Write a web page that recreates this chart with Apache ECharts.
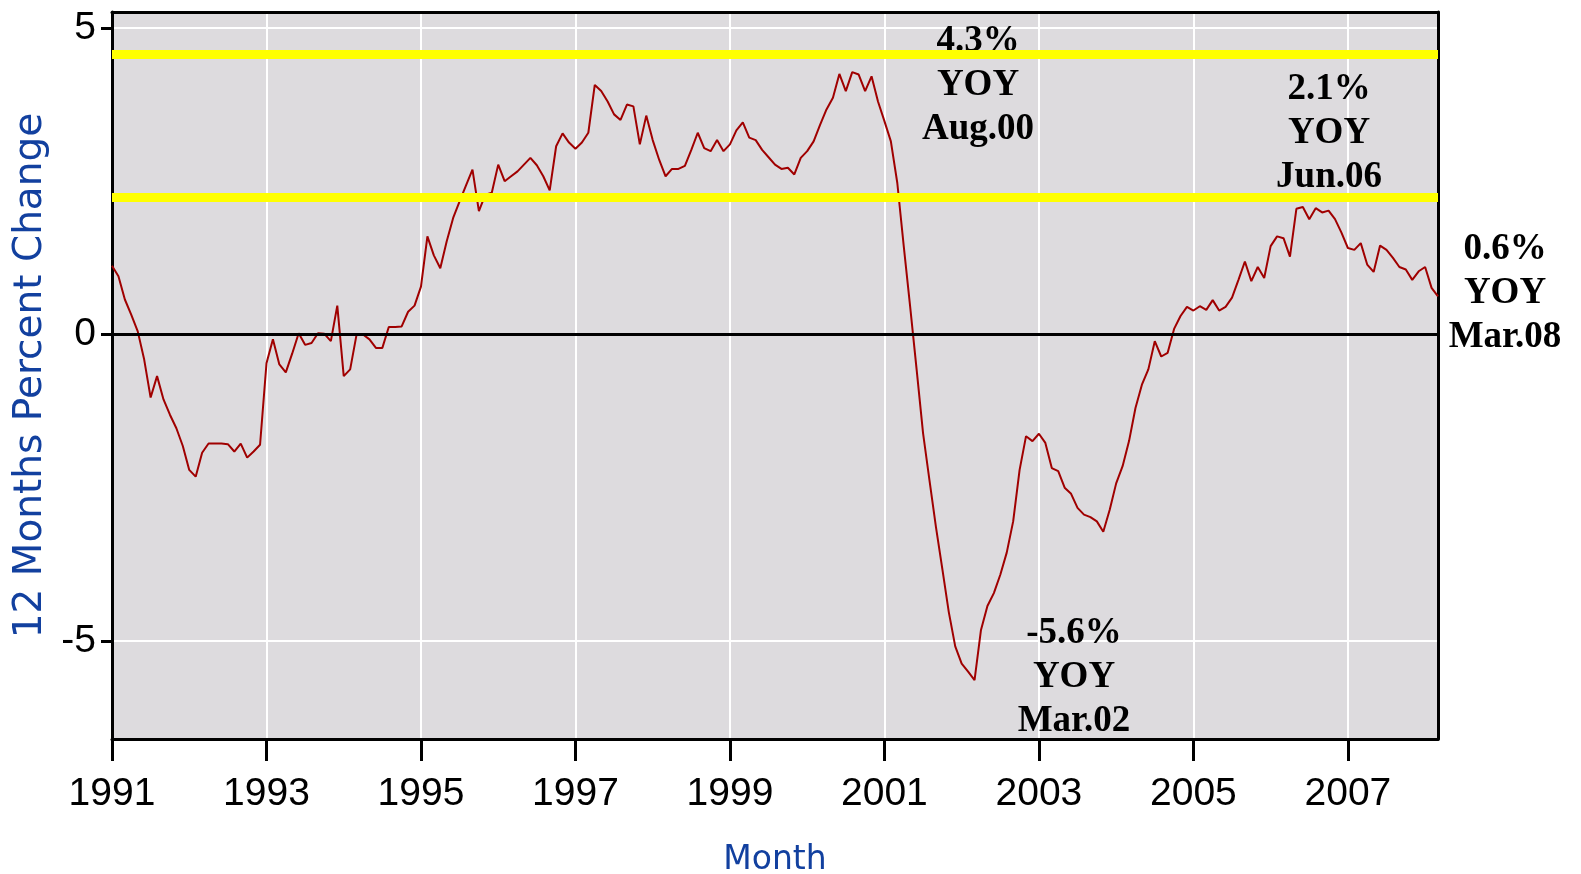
<!DOCTYPE html>
<html lang="en">
<head>
    <meta charset="UTF-8">
    <title>12 Months Percent Change</title>
    <script src="https://cdn.jsdelivr.net/npm/echarts@6/dist/echarts.min.js"></script>
    <style type="text/css">
        html, body { margin: 0; padding: 0; background: #ffffff; }
        #main { width: 1581px; height: 874px; }
    </style>
</head>
<body>
<div id="main"></div>
<script>
    // monthly YOY % change, Jan 1991 .. Mar 2008
    var startYear = 1991;
    var pct1991 = [1.12, 0.95, 0.57, 0.32, 0.05, -0.41, -1.03, -0.68, -1.06, -1.31, -1.53, -1.82];
    var pct1992 = [-2.21, -2.32, -1.93, -1.78, -1.78, -1.78, -1.79, -1.91, -1.78, -2.01, -1.91, -1.80];
    var pct1993 = [-0.47, -0.08, -0.49, -0.62, -0.31, 0.02, -0.17, -0.14, 0.02, 0.01, -0.11, 0.47];
    var pct1994 = [-0.68, -0.57, 0.00, 0.00, -0.08, -0.22, -0.22, 0.12, 0.12, 0.13, 0.37, 0.47];
    var pct1995 = [0.78, 1.60, 1.29, 1.08, 1.52, 1.90, 2.17, 2.43, 2.69, 2.01, 2.28, 2.31];
    var pct1996 = [2.77, 2.50, 2.58, 2.66, 2.77, 2.88, 2.76, 2.58, 2.35, 3.07, 3.28, 3.13];
    var pct1997 = [3.03, 3.13, 3.29, 4.07, 3.97, 3.80, 3.59, 3.50, 3.75, 3.72, 3.10, 3.57];
    var pct1998 = [3.17, 2.85, 2.58, 2.70, 2.70, 2.75, 3.01, 3.29, 3.04, 2.99, 3.17, 2.99];
    var pct1999 = [3.10, 3.33, 3.46, 3.21, 3.17, 3.01, 2.89, 2.77, 2.70, 2.72, 2.61, 2.88];
    var pct2000 = [2.99, 3.15, 3.42, 3.67, 3.86, 4.25, 3.97, 4.28, 4.24, 3.97, 4.21, 3.80];
    var pct2001 = [3.48, 3.15, 2.47, 1.44, 0.45, -0.57, -1.61, -2.38, -3.14, -3.83, -4.53, -5.09];
    var pct2002 = [-5.37, -5.50, -5.64, -4.82, -4.43, -4.22, -3.92, -3.56, -3.05, -2.21, -1.66, -1.74];
    var pct2003 = [-1.62, -1.77, -2.18, -2.23, -2.50, -2.60, -2.83, -2.94, -2.98, -3.05, -3.22, -2.86];
    var pct2004 = [-2.43, -2.15, -1.74, -1.20, -0.82, -0.57, -0.11, -0.36, -0.30, 0.09, 0.30, 0.45];
    var pct2005 = [0.39, 0.46, 0.40, 0.56, 0.39, 0.45, 0.60, 0.89, 1.19, 0.87, 1.10, 0.92];
    var pct2006 = [1.44, 1.60, 1.57, 1.27, 2.05, 2.08, 1.88, 2.06, 1.99, 2.02, 1.88, 1.66];
    var pct2007 = [1.41, 1.38, 1.49, 1.14, 1.02, 1.45, 1.38, 1.25, 1.10, 1.06, 0.89, 1.03];
    var pct2008 = [1.10, 0.76, 0.62];

    // yellow reference bands and the zero line
    var bandLevels = [4.57, 2.23];
    var zeroLevel = 0;

    // callout texts
    var noteTexts = ['4.3%\nYOY\nAug.00', '2.1%\nYOY\nJun.06', '-5.6%\nYOY\nMar.02', '0.6%\nYOY\nMar.08'];

    var yoyPct = [].concat(pct1991, pct1992, pct1993, pct1994, pct1995, pct1996, pct1997, pct1998,
        pct1999, pct2000, pct2001, pct2002, pct2003, pct2004, pct2005, pct2006, pct2007, pct2008);
    var lineData = yoyPct.map(function (v, i) { return [startYear + i / 12, v]; });
    var lastX = lineData[lineData.length - 1][0];
    var yMin = -6.6, yMax = 5.26;

    var tickFont = "'Liberation Sans', Arial, sans-serif";
    var nameColor = '#12409f';

    var chart = echarts.init(document.getElementById('main'));

    // where each callout sits on the page
    var notePos = [[978, 85], [1329, 133], [1074, 677], [1505, 293]];
    var graphics = noteTexts.map(function (t, k) {
        return {
            type: 'text',
            x: notePos[k][0],
            y: notePos[k][1],
            z: 1,
            silent: true,
            style: {
                text: t,
                fill: '#000',
                font: "bold 37px 'Liberation Serif', 'Times New Roman', serif",
                align: 'center',
                verticalAlign: 'middle',
                textAlign: 'center',
                textVerticalAlign: 'middle',
                lineHeight: 44
            }
        };
    });

    var markData = [{ yAxis: zeroLevel, lineStyle: { color: '#000', width: 3, type: 'solid' } }];
    bandLevels.forEach(function (b) {
        markData.push({ yAxis: b, lineStyle: { color: '#ffff00', width: 9, type: 'solid' } });
    });

    // plain black frame line for the top / right edges
    var frameLine = { show: true, onZero: false, lineStyle: { color: '#000', width: 3 } };

    var option = {
        animation: false,
        backgroundColor: '#ffffff',
        grid: {
            left: 112, right: 143, top: 12, bottom: 135,
            show: true,
            backgroundColor: '#dddbde',
            borderColor: '#000',
            borderWidth: 0,
            containLabel: false,
            outerBoundsMode: 'none'
        },
        xAxis: [{
            type: 'value',
            min: startYear,
            max: lastX,
            interval: 2,
            name: 'Month',
            nameLocation: 'middle',
            nameGap: 105,
            nameTextStyle: { color: nameColor, fontSize: 33, fontFamily: 'DejaVu Sans' },
            axisLine: { show: true, onZero: false, lineStyle: { color: '#000', width: 3 } },
            axisTick: { show: true, length: 22, lineStyle: { color: '#000', width: 3 } },
            axisLabel: {
                color: '#000', fontSize: 39, fontFamily: tickFont, margin: 36,
                showMaxLabel: false,
                formatter: function (v) { return String(Math.round(v)); }
            },
            splitLine: { show: true, lineStyle: { color: '#ffffff', width: 2 } }
        }, {
            type: 'value',
            position: 'top',
            min: startYear,
            max: lastX,
            axisLine: frameLine,
            axisTick: { show: false },
            axisLabel: { show: false },
            splitLine: { show: false }
        }],
        yAxis: [{
            type: 'value',
            min: yMin,
            max: yMax,
            splitNumber: 2,
            name: '12 Months Percent Change',
            nameLocation: 'middle',
            nameGap: 54,
            nameTextStyle: { color: nameColor, fontSize: 39, fontFamily: 'DejaVu Sans' },
            axisLine: { show: true, onZero: false, lineStyle: { color: '#000', width: 3 } },
            axisTick: { show: true, length: 11, lineStyle: { color: '#000', width: 3 } },
            axisLabel: {
                color: '#000', fontSize: 39, fontFamily: tickFont, margin: 16,
                showMinLabel: false, showMaxLabel: false
            },
            splitLine: { show: true, lineStyle: { color: '#ffffff', width: 2 } }
        }, {
            type: 'value',
            position: 'right',
            min: yMin,
            max: yMax,
            axisLine: frameLine,
            axisTick: { show: false },
            axisLabel: { show: false },
            splitLine: { show: false }
        }],
        graphic: graphics,
        series: [
            {
                // reference lines only
                type: 'line',
                data: [],
                z: 2,
                markLine: {
                    silent: true,
                    symbol: ['none', 'none'],
                    label: { show: false },
                    data: markData
                }
            },
            {
                name: 'YOY',
                type: 'line',
                data: lineData,
                z: 3,
                showSymbol: false,
                symbol: 'none',
                lineStyle: { color: '#a00000', width: 2 }
            }
        ]
    };
    chart.setOption(option);
</script>
</body>
</html>
